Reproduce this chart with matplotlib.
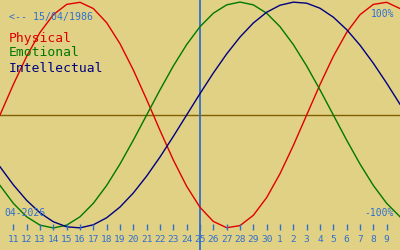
import numpy as np
import matplotlib
matplotlib.use("Agg")
import matplotlib.pyplot as plt

# Day labels along the bottom (April 11..30, May 1..9)
day_labels = [str(d) for d in range(11, 31)] + [str(d) for d in range(1, 10)]
today_label = "25"
birth_text = "<-- 15/04/1986"
month_text = "04-2026"

# Daily values (from the day before the first label to the day after the last)
physical = [0.0, 0.2698, 0.5196, 0.7308, 0.8879, 0.9791, 0.9977, 0.9423, 0.8170,
            0.6311, 0.3984, 0.1362, -0.1362, -0.3984, -0.6311, -0.8170, -0.9423,
            -0.9977, -0.9791, -0.8879, -0.7308, -0.5196, -0.2698, 0.0, 0.2698,
            0.5196, 0.7308, 0.8879, 0.9791, 0.9977, 0.9423]
emotional = [-0.6235, -0.7818, -0.9010, -0.9749, -1.0, -0.9749, -0.9010, -0.7818,
             -0.6235, -0.4339, -0.2225, 0.0, 0.2225, 0.4339, 0.6235, 0.7818, 0.9010,
             0.9749, 1.0, 0.9749, 0.9010, 0.7818, 0.6235, 0.4339, 0.2225, 0.0,
             -0.2225, -0.4339, -0.6235, -0.7818, -0.9010]
intellectual = [-0.4582, -0.6182, -0.7557, -0.8660, -0.9450, -0.9898, -0.9989,
                -0.9718, -0.9096, -0.8146, -0.6901, -0.5406, -0.3717, -0.1893, 0.0,
                0.1893, 0.3717, 0.5406, 0.6901, 0.8146, 0.9096, 0.9718, 0.9989,
                0.9898, 0.9450, 0.8660, 0.7557, 0.6182, 0.4582, 0.2817, 0.0951]

BG = "#e0d184"
BLUE = "#2f6fd0"
RED = "#e00000"
GREEN = "#007800"
NAVY = "#000080"
OLIVE = "#806000"

fig = plt.figure(figsize=(4, 2.5), dpi=100, facecolor=BG)
ax = fig.add_axes([0, 0, 1, 1])
ax.set_facecolor(BG)
ax.set_xlim(-1, 29)
ax.set_ylim(-1.195, 1.018)
ax.axis("off")

x = np.arange(-1, -1 + len(physical))
ax.axhline(0, color=OLIVE, lw=1.0)
ti = day_labels.index(today_label)
ax.axvline(ti, color=BLUE, lw=1.3)

ax.plot(x, physical, color=RED, lw=1.0)
ax.plot(x, emotional, color=GREEN, lw=1.0)
ax.plot(x, intellectual, color=NAVY, lw=1.0)

xt = np.arange(len(day_labels))
ax.vlines(xt, -1.018, -0.965, color=BLUE, lw=1.0)
for xi, lab in zip(xt, day_labels):
    ax.text(xi, -1.12, lab, color=BLUE, fontsize=6.8, family="DejaVu Sans Mono",
            ha="center", va="baseline")

def ftext(px, py, s, color, size, ha="left"):
    fig.text(px / 400, 1 - py / 250, s, color=color, fontsize=size,
             family="DejaVu Sans Mono", ha=ha, va="baseline")

ftext(9, 20, birth_text, BLUE, 7.1)
ftext(9, 42, "Physical", RED, 9.4)
ftext(9, 56.5, "Emotional", GREEN, 9.4)
ftext(9, 71.5, "Intellectual", NAVY, 9.4)
ftext(394, 17, "100%", BLUE, 7.0, ha="right")
ftext(394, 216, "-100%", BLUE, 7.0, ha="right")
ftext(4, 216, month_text, BLUE, 7.0)

fig.savefig("out.png", dpi=100, facecolor=BG)
